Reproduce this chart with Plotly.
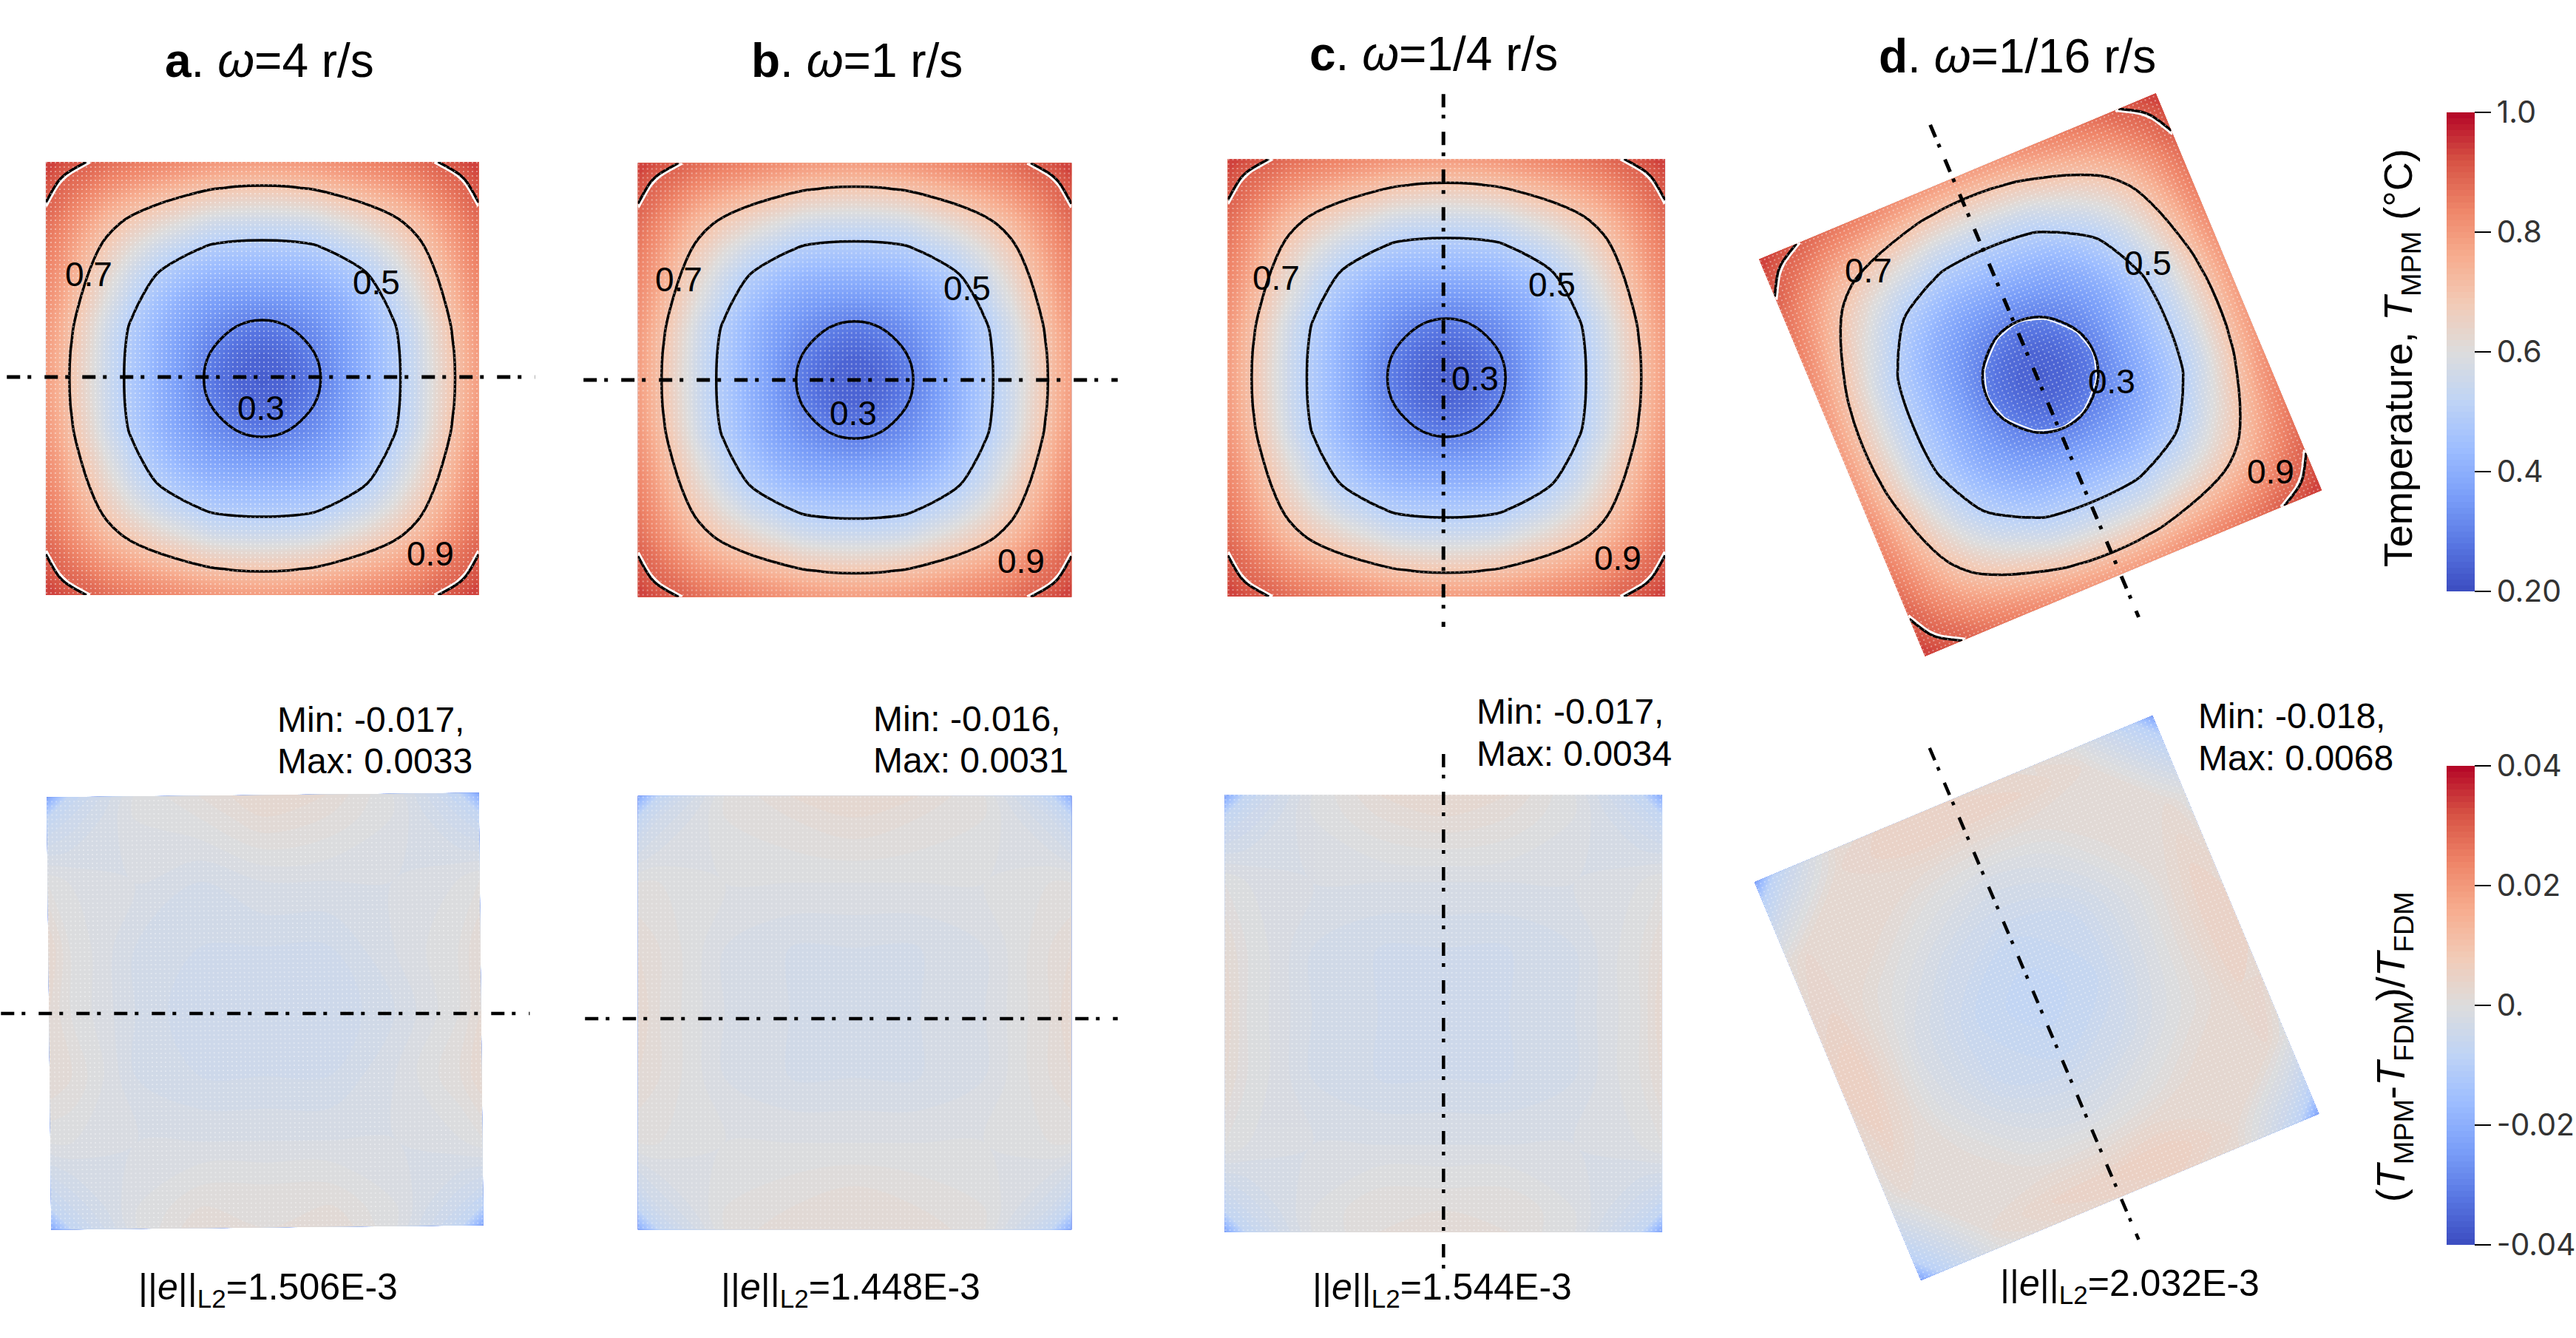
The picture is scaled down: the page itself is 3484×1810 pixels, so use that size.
import math
import numpy as np
import plotly.graph_objects as go

W, H = 3484, 1810
UNIT = 293.0  # pixels per axis unit in every panel
DOT_STEP = 6.0  # spacing of the material-point texture, px

# Sample positions (fraction of half side, centre to edge)
GRID_POS = [0, .12, .24, .36, .48, .6, .72, .8, .88, .94, 1]

TEMP_QUADRANT = [
    [.235, .250, .285, .345, .410, .475, .553, .618, .690, .745, .790],
    [.250, .262, .300, .352, .412, .478, .555, .624, .694, .749, .794],
    [.285, .300, .328, .369, .422, .488, .567, .637, .707, .760, .803],
    [.345, .352, .369, .402, .452, .520, .599, .666, .730, .780, .820],
    [.410, .412, .422, .452, .495, .556, .634, .696, .755, .801, .838],
    [.475, .478, .488, .520, .556, .609, .677, .731, .783, .823, .856],
    [.553, .555, .567, .599, .634, .677, .729, .772, .816, .849, .876],
    [.618, .624, .637, .666, .696, .731, .772, .809, .846, .873, .897],
    [.690, .694, .707, .730, .755, .783, .816, .846, .872, .890, .917],
    [.745, .749, .760, .780, .801, .823, .849, .873, .890, .908, .930],
    [.790, .794, .803, .820, .838, .856, .876, .897, .917, .930, .940],
]

# Error fields (rows bottom to top)
ERR_POS = [-1, -.9, -.6, -.3, 0, .3, .6, .9, 1]
ERR_A = [
    [-.022, -.007, -.001, .002, .001, .002, -.001, -.007, -.022],
    [-.007, -.005, -.001, .001, .001, .001, -.001, -.005, -.007],
    [-.001, -.001, -.002, -.002, -.002, -.002, -.002, -.001, .000],
    [.002, .001, -.003, -.004, -.004, -.004, -.002, .001, .003],
    [.002, .000, -.003, -.005, -.005, -.005, -.003, .000, .002],
    [.003, .000, -.003, -.004, -.004, -.004, -.002, .000, .002],
    [.000, -.001, -.002, -.003, -.002, -.002, -.002, -.001, .000],
    [-.007, -.005, -.001, .000, .002, .001, -.001, -.005, -.007],
    [-.023, -.007, -.001, .001, .003, .002, -.001, -.007, -.022],
]
ERR_B = [
    [-.021, -.007, .000, .002, .002, .002, .000, -.007, -.021],
    [-.007, -.004, .000, .001, .002, .001, .000, -.004, -.007],
    [.000, .000, -.001, -.001, -.001, -.001, -.001, .000, .000],
    [.002, .001, -.002, -.003, -.003, -.003, -.002, .001, .002],
    [.003, .001, -.002, -.003, -.004, -.003, -.002, .001, .003],
    [.002, .001, -.002, -.003, -.003, -.003, -.002, .001, .002],
    [.000, .000, -.001, -.001, -.001, -.001, -.001, .000, .000],
    [-.007, -.004, .000, .001, .002, .001, .000, -.004, -.007],
    [-.022, -.007, .000, .002, .003, .002, .000, -.007, -.021],
]
ERR_C = [
    [-.022, -.007, -.001, .001, .002, .001, -.001, -.007, -.023],
    [-.007, -.005, -.001, .001, .001, .001, -.001, -.005, -.007],
    [.000, -.001, -.002, -.002, -.002, -.002, -.002, -.001, .000],
    [.002, .000, -.003, -.004, -.004, -.004, -.003, .000, .002],
    [.003, .000, -.003, -.004, -.005, -.004, -.003, .000, .003],
    [.002, .000, -.003, -.004, -.004, -.004, -.003, .000, .002],
    [.000, -.001, -.002, -.002, -.002, -.002, -.002, -.001, .000],
    [-.007, -.005, -.001, .001, .002, .001, -.001, -.005, -.007],
    [-.022, -.007, -.001, .002, .003, .002, -.001, -.007, -.022],
]
ERR_D = [
    [-.023, -.009, .000, .003, .004, .005, .002, -.008, -.023],
    [-.009, -.006, .002, .004, .005, .006, .003, -.005, -.009],
    [.000, .002, .002, -.001, -.002, .000, .003, .003, .000],
    [.003, .005, -.001, -.005, -.006, -.004, .000, .004, .003],
    [.005, .006, -.002, -.006, -.008, -.006, -.001, .005, .005],
    [.003, .004, .000, -.004, -.006, -.005, -.001, .004, .003],
    [.001, .003, .003, .000, -.002, -.001, .002, .002, .000],
    [-.009, -.005, .003, .005, .005, .004, .002, -.006, -.009],
    [-.023, -.008, .002, .005, .004, .003, .000, -.009, -.023],
]

COOLWARM = [[0, '#3b4cc0'], [.1, '#5977e3'], [.2, '#7b9ff9'], [.3, '#9ebeff'], [.4, '#c0d4f5'],
            [.5, '#dddcdc'], [.6, '#f2cbb7'], [.7, '#f7ac8e'], [.8, '#ee8468'], [.9, '#d65244'], [1, '#b40426']]

TEMP_TICKS = [.2, .4, .6, .8, 1.0]
TEMP_TICKTEXT = ['0.20', '0.4', '0.6', '0.8', '1.0']
ERR_TICKS = [-.04, -.02, 0, .02, .04]
ERR_TICKTEXT = ['-0.04', '-0.02', '0.', '0.02', '0.04']

PANEL_TITLES = ['<b>a</b>. <i>ω</i>=4 r/s', '<b>b</b>. <i>ω</i>=1 r/s',
                '<b>c</b>. <i>ω</i>=1/4 r/s', '<b>d</b>. <i>ω</i>=1/16 r/s']
TITLE_XY = [(365, 82), (1160, 82), (1941, 73), (2731, 76)]

MIN_TEXT = ['Min: -0.017,', 'Min: -0.016,', 'Min: -0.017,', 'Min: -0.018,']
MAX_TEXT = ['Max: 0.0033', 'Max: 0.0031', 'Max: 0.0034', 'Max: 0.0068']
MINMAX_XY = [(373, 973, 1029), (1180, 972, 1028), (1997, 962, 1019), (2974, 969, 1025)]

L2_TEXT = ['1.506E-3', '1.448E-3', '1.544E-3', '2.032E-3']
L2_XY = [(363, 1744), (1151, 1744), (1952, 1744), (2883, 1739)]

CONTOUR_TEXT = ['0.7', '0.5', '0.3', '0.9']
CONTOUR_XY = [
    [(120, 371), (509, 382), (353, 552), (583, 749)],
    [(919, 378), (1309, 390), (1155, 559), (1382, 759)],
    [(1727, 376), (2101, 385), (1997, 512), (2190, 755)],
    [(2529, 366), (2908, 356), (2858, 516), (3074, 638)],
]

# Panels: centre (px), half side (px), rotation (deg, counter-clockwise)
TOP_PANELS = [(355, 512, 293, 0), (1157, 514, 293.5, 0), (1958, 511, 296, 0), (2762, 507, 291, 22.7)]
BOT_PANELS = [(358.75, 1368, 292.5, .6), (1157, 1370, 293.5, 0), (1954, 1371, 296, 0), (2757, 1350, 292, 22.7)]

# Section lines, in panel axis units
TOP_LINES = [([-1.18, 1.26], [.007, .007]), ([-1.253, 1.215], [0, 0]),
             ([-.014, -.014], [1.31, -1.15]), ([-.509, .454], [1.154, -1.119])]
BOT_LINES = [([-1.22, 1.223], [-.01, -.01]), ([-1.246, 1.215], [-.027, -.027]),
             ([0, 0], [1.198, -1.208]), ([-.495, .471], [1.154, -1.116])]

fig = go.Figure()
layout = {}
annots = []


def px(x):
    return x / W


def py(y):
    return 1 - y / H


def note(text, x, y, size=50, xanchor='center', color='black', family='Liberation Sans', angle=0):
    annots.append(dict(text=text, x=px(x), y=py(y), xref='paper', yref='paper', showarrow=False,
                       xanchor=xanchor, yanchor='middle', textangle=angle,
                       font=dict(size=size, color=color, family=family)))


axis_n = 0


def add_axes(cx, cy):
    global axis_n
    axis_n += 1
    sfx = '' if axis_n == 1 else str(axis_n)
    x0, x1 = max(0, cx - 395), min(W, cx + 395)
    y0, y1 = max(0, cy - 395), min(H, cy + 395)
    layout['xaxis' + sfx] = dict(domain=[px(x0), px(x1)], range=[(x0 - cx) / UNIT, (x1 - cx) / UNIT],
                                 visible=False, anchor='y' + sfx, fixedrange=True)
    layout['yaxis' + sfx] = dict(domain=[py(y1), py(y0)], range=[(cy - y1) / UNIT, (cy - y0) / UNIT],
                                 visible=False, anchor='x' + sfx, fixedrange=True)
    return 'x' + sfx, 'y' + sfx


def add_carpet(name, a, b, half, deg, xa, ya):
    t = math.radians(deg)
    s = half / UNIT
    A, B = np.meshgrid(np.array(a) * s, np.array(b) * s)
    X = A * math.cos(t) - B * math.sin(t)
    Y = A * math.sin(t) + B * math.cos(t)
    ax = dict(showgrid=False, showline=False, showticklabels='none', startline=False, endline=False,
              minorgridcount=0, smoothing=0)
    fig.add_trace(go.Carpet(carpet=name, a=a, b=b, x=X.tolist(), y=Y.tolist(), aaxis=ax, baxis=ax,
                            xaxis=xa, yaxis=ya))


def add_texture(half, deg, xa, ya, alpha):
    """Rows of small pale dots, the material points seen through the field."""
    t = math.radians(deg)
    s = half / UNIT
    step = DOT_STEP / UNIT
    xs, ys = [], []
    for v in np.arange(-s + step / 2, s, step):
        for u in (-s, s):
            xs.append(u * math.cos(t) - v * math.sin(t))
            ys.append(u * math.sin(t) + v * math.cos(t))
        xs.append(None)
        ys.append(None)
    fig.add_trace(go.Scatter(x=xs, y=ys, mode='lines', xaxis=xa, yaxis=ya, hoverinfo='skip', showlegend=False,
                             opacity=alpha, line=dict(color='white', width=2, dash='2px,4px', simplify=False)))


def mirrored():
    q = np.array(TEMP_QUADRANT)
    top = np.hstack([q[:, :0:-1], q])
    full = np.vstack([top[:0:-1], top])
    pos = [-p for p in GRID_POS[:0:-1]] + GRID_POS
    return pos, full.tolist()


POS, TEMP = mirrored()


def colorbar(top, bottom, tickvals, ticktext):
    return dict(x=px(3312), xanchor='left', xpad=0, ypad=0, y=py((top + bottom) / 2), yanchor='middle',
                len=bottom - top, lenmode='pixels', thickness=38, thicknessmode='pixels',
                tickvals=tickvals, ticktext=ticktext, ticks='outside', ticklen=22, tickwidth=2,
                tickcolor='black', outlinewidth=0, tickfont=dict(size=41, family='Inter', color='#333333'))


for i, (cx, cy, half, deg) in enumerate(TOP_PANELS):
    xa, ya = add_axes(cx, cy)
    name = f'ct{i}'
    add_carpet(name, POS, POS, half, deg, xa, ya)
    kw = dict(colorbar=colorbar(152, 800, TEMP_TICKS, TEMP_TICKTEXT)) if i == 0 else dict(showscale=False)
    fig.add_trace(go.Contourcarpet(carpet=name, a=POS, b=POS, z=TEMP, zmin=.2, zmax=1, autocontour=False,
                                   colorscale=COOLWARM, contours=dict(coloring='fill', start=.2, end=1, size=.01),
                                   line=dict(width=0), xaxis=xa, yaxis=ya, **kw))
    add_texture(half, deg, xa, ya, .4)
    halos = [(.896, 4.5)] + ([(.297, 2)] if i == 3 else [])
    for lev, wid in halos:
        fig.add_trace(go.Contourcarpet(carpet=name, a=POS, b=POS, z=TEMP, autocontour=False, showscale=False,
                                       contours=dict(coloring='none', start=lev, end=lev, size=.1),
                                       line=dict(color='white', width=wid, smoothing=1),
                                       xaxis=xa, yaxis=ya))
    fig.add_trace(go.Contourcarpet(carpet=name, a=POS, b=POS, z=TEMP, autocontour=False, showscale=False,
                                   contours=dict(coloring='none', start=.3, end=.9, size=.2),
                                   line=dict(color='black', width=3.5, smoothing=1),
                                   xaxis=xa, yaxis=ya))
    lx, ly = TOP_LINES[i]
    fig.add_trace(go.Scatter(x=lx, y=ly, mode='lines', xaxis=xa, yaxis=ya, hoverinfo='skip', showlegend=False,
                             line=dict(color='black', width=5, dash='18px,10px,5px,18px')))

for i, (cx, cy, half, deg) in enumerate(BOT_PANELS):
    xa, ya = add_axes(cx, cy)
    name = f'cb{i}'
    add_carpet(name, ERR_POS, ERR_POS, half, deg, xa, ya)
    z = [ERR_A, ERR_B, ERR_C, ERR_D][i]
    kw = dict(colorbar=colorbar(1036, 1684, ERR_TICKS, ERR_TICKTEXT)) if i == 0 else dict(showscale=False)
    fig.add_trace(go.Contourcarpet(carpet=name, a=ERR_POS, b=ERR_POS, z=z, zmin=-.04, zmax=.04, autocontour=False,
                                   colorscale=COOLWARM, contours=dict(coloring='fill', start=-.04, end=.04, size=.001),
                                   line=dict(width=0), xaxis=xa, yaxis=ya, **kw))
    add_texture(half, deg, xa, ya, .35)
    lx, ly = BOT_LINES[i]
    fig.add_trace(go.Scatter(x=lx, y=ly, mode='lines', xaxis=xa, yaxis=ya, hoverinfo='skip', showlegend=False,
                             line=dict(color='black', width=4.5, dash='18px,10px,5px,18px')))

for t, (x, y) in zip(PANEL_TITLES, TITLE_XY):
    note(t, x, y, size=64)
for row_xy in CONTOUR_XY:
    for t, (x, y) in zip(CONTOUR_TEXT, row_xy):
        note(t, x, y, size=46)
for tmin, tmax, (x, y1, y2) in zip(MIN_TEXT, MAX_TEXT, MINMAX_XY):
    note(tmin, x, y1, size=48, xanchor='left')
    note(tmax, x, y2, size=48, xanchor='left')
for t, (x, y) in zip(L2_TEXT, L2_XY):
    note(f'||<i>e</i>||<sub>L2</sub>={t}', x, y, size=50)
note('Temperature, <i>T</i><sub>MPM</sub> (°C)', 3250, 484, size=54, angle=-90)
note('(<i>T</i><sub>MPM</sub>-<i>T</i><sub>FDM</sub>)/<i>T</i><sub>FDM</sub>', 3240, 1416, size=54, angle=-90)

fig.update_layout(width=W, height=H, margin=dict(l=0, r=0, t=0, b=0), paper_bgcolor='white', plot_bgcolor='rgba(0,0,0,0)',
                  showlegend=False, annotations=annots, **layout)
POST = ("document.body.style.margin='0';"
        "setTimeout(function(){document.querySelectorAll('.carpetlayer text').forEach(function(t){"
        "if(!t.textContent.trim()){t.remove();}});},300);")
fig.write_html('out.html', config={'displayModeBar': False}, post_script=POST)
